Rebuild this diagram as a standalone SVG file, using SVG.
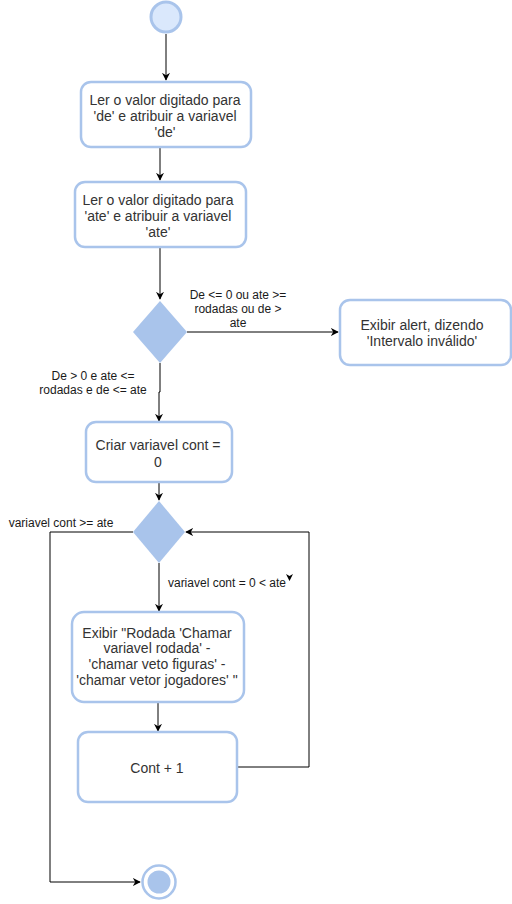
<svg xmlns="http://www.w3.org/2000/svg" width="512" height="904" viewBox="0 0 512 904">
<defs>
<style>
.box{fill:#ffffff;stroke:#a9c4eb;stroke-width:2.5}
.dec{fill:#a9c4eb;stroke:none}
.t{font-family:"Liberation Sans",Arial,sans-serif;font-size:14px;fill:#333333;text-anchor:middle}
.l{font-family:"Liberation Sans",Arial,sans-serif;font-size:12px;fill:#1a1a1a;text-anchor:middle}
.e{fill:none;stroke:#000000;stroke-width:1}
</style>
<marker id="arr" viewBox="0 0 10 10" refX="9" refY="5" markerWidth="8" markerHeight="8" markerUnits="userSpaceOnUse" orient="auto">
<path d="M0,0 L10,5 L0,10 L3,5 Z" fill="#000000"/>
</marker>
</defs>
<rect width="512" height="904" fill="#ffffff"/>
<g id="connectors">
<path class="e" d="M166,34 L166,80" marker-end="url(#arr)"/>
<path class="e" d="M160,148 L160,180" marker-end="url(#arr)"/>
<path class="e" d="M160,248 L160,299" marker-end="url(#arr)"/>
<path class="e" d="M187,332 L338,332" marker-end="url(#arr)"/>
<path class="e" d="M160,363 L160,392 L159,392 L159,421" marker-end="url(#arr)"/>
<path class="e" d="M159,483 L159,500" marker-end="url(#arr)"/>
<path class="e" d="M159,563 L159,611" marker-end="url(#arr)"/>
<path class="e" d="M158,703 L158,731" marker-end="url(#arr)"/>
<path class="e" d="M238,767 L309,767 L309,532 L186,532" marker-end="url(#arr)"/>
<path class="e" d="M133,532 L50,532 L50,882 L140,882" marker-end="url(#arr)"/>
<path d="M286,574 L289.5,576 L293,574 L289.5,581 Z" fill="#000000"/>
<text class="l" x="238" y="299">De &lt;= 0 ou ate &gt;=</text>
<text class="l" x="238" y="313">rodadas ou de &gt;</text>
<text class="l" x="238" y="327">ate</text>
<text class="l" x="93" y="380">De &gt; 0 e ate &lt;=</text>
<text class="l" x="93" y="394">rodadas e de &lt;= ate</text>
<text class="l" x="61" y="527">variavel cont &gt;= ate</text>
<text class="l" x="227" y="587">variavel cont = 0 &lt; ate</text>
</g>
<g id="start">
<circle cx="166" cy="17" r="15" fill="#dae8fc" stroke="#a9c4eb" stroke-width="3"/>
</g>
<g id="lerDe">
<rect class="box" x="81" y="82" width="170" height="65" rx="10"/>
<text class="t" x="165" y="105">Ler o valor digitado para</text>
<text class="t" x="165" y="121">'de' e atribuir a variavel</text>
<text class="t" x="165" y="137">'de'</text>
</g>
<g id="lerAte">
<rect class="box" x="75" y="182" width="171" height="65" rx="10"/>
<text class="t" x="158" y="205">Ler o valor digitado para</text>
<text class="t" x="158" y="221">'ate' e atribuir a variavel</text>
<text class="t" x="158" y="237">'ate'</text>
</g>
<g id="decisao1">
<polygon class="dec" points="160,301 187,332 160,363 133,332"/>
</g>
<g id="alerta">
<rect class="box" x="340" y="300" width="171" height="65" rx="10"/>
<text class="t" x="422" y="330">Exibir alert, dizendo</text>
<text class="t" x="422" y="346">'Intervalo inválido'</text>
</g>
<g id="criarCont">
<rect class="box" x="86" y="422" width="146" height="60" rx="10"/>
<text class="t" x="158" y="450">Criar variavel cont =</text>
<text class="t" x="158" y="467">0</text>
</g>
<g id="decisao2">
<polygon class="dec" points="159,501 185,532 159,563 133,532"/>
</g>
<g id="exibir">
<rect class="box" x="72" y="612" width="172" height="90" rx="12"/>
<text class="t" x="157" y="638">Exibir "Rodada 'Chamar</text>
<text class="t" x="157" y="653">variavel rodada' -</text>
<text class="t" x="157" y="669">'chamar veto figuras' -</text>
<text class="t" x="157" y="685">'chamar vetor jogadores' "</text>
</g>
<g id="incremento">
<rect class="box" x="78" y="732" width="159" height="70" rx="10"/>
<text class="t" x="157" y="773">Cont + 1</text>
</g>
<g id="fim">
<circle cx="159" cy="882" r="16.5" fill="#ffffff" stroke="#a9c4eb" stroke-width="2.5"/>
<circle cx="159" cy="882" r="11.5" fill="#a9c4eb"/>
</g>
</svg>
